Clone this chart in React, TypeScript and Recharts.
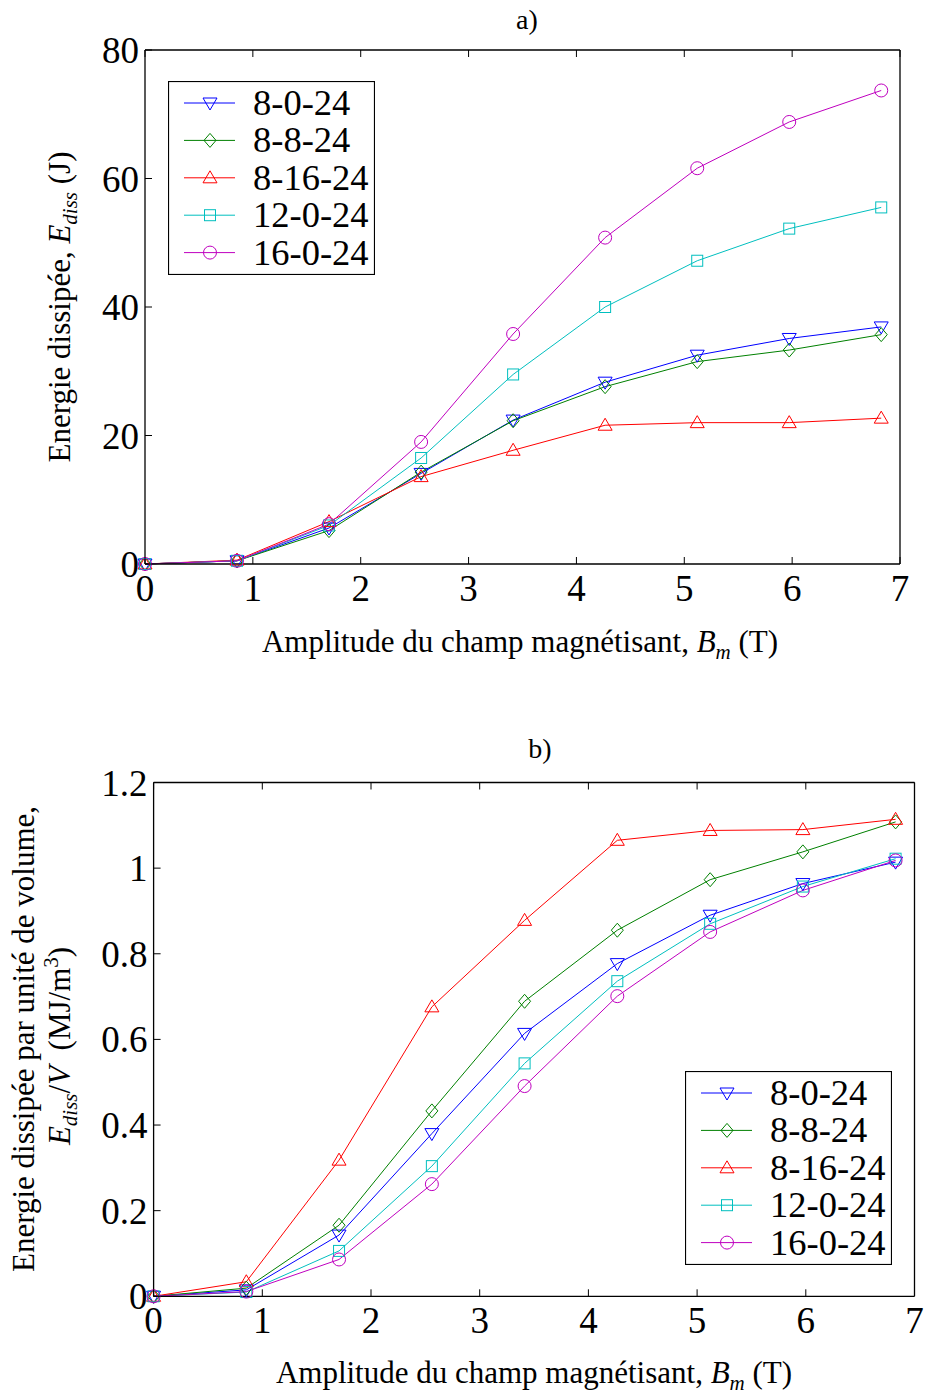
import React from 'react';
import { LineChart, Line, XAxis, YAxis, Legend, Customized } from 'recharts';

// magnetising field amplitude B_m (T), shared by both panels
const bField = [0, 0.853, 1.706, 2.56, 3.413, 4.266, 5.12, 5.973, 6.826];

const seriesNames = ['8-0-24', '8-8-24', '8-16-24', '12-0-24', '16-0-24'];
const seriesColors = ['#0000ff', '#008000', '#ff0000', '#00bfbf', '#bf00bf'];
const seriesMarkers = ['v', 'd', '^', 's', 'o'];

// a) dissipated energy (J)
const energy_8_0_24 = [0, 0.5, 5.6, 14.1, 22.4, 28.3, 32.5, 35.1, 36.9];
const energy_8_8_24 = [0, 0.5, 5.2, 14.3, 22.3, 27.6, 31.5, 33.3, 35.7];
const energy_8_16_24 = [0, 0.6, 6.6, 13.6, 17.7, 21.6, 22.0, 22.0, 22.7];
const energy_12_0_24 = [0, 0.5, 6.0, 16.5, 29.5, 40.0, 47.2, 52.2, 55.5];
const energy_16_0_24 = [0, 0.5, 6.2, 19.0, 35.8, 50.8, 61.6, 68.8, 73.7];

// b) dissipated energy per unit volume (MJ/m3)
const density_8_0_24 = [0, 0.015, 0.143, 0.38, 0.614, 0.777, 0.89, 0.964, 1.014];
const density_8_8_24 = [0, 0.019, 0.166, 0.433, 0.689, 0.855, 0.973, 1.038, 1.108];
const density_8_16_24 = [0, 0.034, 0.318, 0.676, 0.878, 1.065, 1.088, 1.09, 1.114];
const density_12_0_24 = [0, 0.01, 0.106, 0.304, 0.544, 0.736, 0.87, 0.957, 1.022];
const density_16_0_24 = [0, 0.011, 0.086, 0.262, 0.491, 0.701, 0.851, 0.948, 1.018];

const xTicks = [0, 1, 2, 3, 4, 5, 6, 7];
const energyTicks = [0, 20, 40, 60, 80];
const densityTicks = [0, 0.2, 0.4, 0.6, 0.8, 1, 1.2];

const SERIF = '"Liberation Serif", "Times New Roman", serif';

const buildRows = (cols: number[][]) =>
  bField.map((b, i) => {
    const row: any = { b };
    seriesNames.forEach((n, k) => (row[n] = cols[k][i]));
    return row;
  });

const energyRows = buildRows([energy_8_0_24, energy_8_8_24, energy_8_16_24, energy_12_0_24, energy_16_0_24]);
const densityRows = buildRows([density_8_0_24, density_8_8_24, density_8_16_24, density_12_0_24, density_16_0_24]);

const Marker = ({ kind, cx, cy, color }: any) => {
  const p = { fill: 'none', stroke: color, strokeWidth: 1 };
  if (kind === 'o') return <circle cx={cx} cy={cy} r={6.5} {...p} />;
  if (kind === 's') return <rect x={cx - 5.5} y={cy - 5.5} width={11} height={11} {...p} />;
  if (kind === 'd') return <polygon points={`${cx},${cy - 7} ${cx + 6},${cy} ${cx},${cy + 7} ${cx - 6},${cy}`} {...p} />;
  if (kind === 'v') return <polygon points={`${cx - 7},${cy - 5} ${cx + 7},${cy - 5} ${cx},${cy + 7}`} {...p} />;
  return <polygon points={`${cx - 7},${cy + 5} ${cx + 7},${cy + 5} ${cx},${cy - 7}`} {...p} />;
};

const BottomTick = ({ x, y, payload }: any) => (
  <g>
    <line x1={x} y1={y} x2={x} y2={y - 7} stroke="#000" />
    <text x={x} y={y + 37} textAnchor="middle" fontSize={37} fontFamily={SERIF} fill="#000">
      {payload.value}
    </text>
  </g>
);
const TopTick = ({ x, y }: any) => <line x1={x} y1={y} x2={x} y2={y + 7} stroke="#000" />;
const RightTick = ({ x, y }: any) => <line x1={x} y1={y} x2={x - 7} y2={y} stroke="#000" />;
const makeLeftTick = (fmt: (v: number) => string) => ({ x, y, payload }: any) => (
  <g>
    <line x1={x} y1={y} x2={x + 7} y2={y} stroke="#000" />
    <text x={x - 6} y={y + 13} textAnchor="end" fontSize={37} fontFamily={SERIF} fill="#000">
      {fmt(payload.value)}
    </text>
  </g>
);

const LegendBox = () => (
  <svg width={207} height={194} style={{ display: 'block' }}>
    <rect x={0.5} y={0.5} width={206} height={193} fill="#fff" stroke="#000" strokeWidth={1.2} />
    {seriesNames.map((n, i) => {
      const y = 22 + i * 37.4;
      return (
        <g key={n}>
          <line x1={16} y1={y} x2={67} y2={y} stroke={seriesColors[i]} />
          <Marker kind={seriesMarkers[i]} cx={42} cy={y} color={seriesColors[i]} />
          <text x={85} y={y + 12} fontSize={36.5} fontFamily={SERIF} fill="#000">
            {n}
          </text>
        </g>
      );
    })}
  </svg>
);

const XTitle = ({ cx, y }: any) => (
  <text x={cx} y={y} textAnchor="middle" fontSize={31} fontFamily={SERIF} fill="#000">
    Amplitude du champ magnétisant, <tspan fontStyle="italic">B</tspan>
    <tspan fontStyle="italic" fontSize={21} dy={7}>m</tspan>
    <tspan dy={-7}> (T)</tspan>
  </text>
);

const Panel = ({ rows, yDomain, yTicks, yFmt, margin, legendPos, overlay }: any) => (
  <LineChart width={926} height={697} data={rows} margin={margin}>
    <XAxis
      dataKey="b"
      type="number"
      domain={[0, 7]}
      ticks={xTicks}
      height={40}
      tickSize={0}
      tickMargin={0}
      tick={<BottomTick />}
      axisLine={{ stroke: '#000', strokeWidth: 1.3 }}
      tickLine={false}
    />
    <XAxis
      xAxisId="top"
      orientation="top"
      dataKey="b"
      type="number"
      domain={[0, 7]}
      ticks={xTicks}
      height={1}
      tickSize={0}
      tickMargin={0}
      tick={<TopTick />}
      axisLine={{ stroke: '#000', strokeWidth: 1.3 }}
      tickLine={false}
    />
    <YAxis
      type="number"
      domain={yDomain}
      ticks={yTicks}
      width={100}
      tickSize={0}
      tickMargin={0}
      tick={makeLeftTick(yFmt)}
      axisLine={{ stroke: '#000', strokeWidth: 1.3 }}
      tickLine={false}
    />
    <YAxis
      yAxisId="right"
      orientation="right"
      type="number"
      domain={yDomain}
      ticks={yTicks}
      width={1}
      tickSize={0}
      tickMargin={0}
      tick={<RightTick />}
      axisLine={{ stroke: '#000', strokeWidth: 1.3 }}
      tickLine={false}
    />
    {seriesNames.map((n, i) => (
      <Line
        key={n}
        dataKey={n}
        name={n}
        stroke={seriesColors[i]}
        strokeWidth={1}
        isAnimationActive={false}
        dot={(p: any) => <Marker key={`${n}-${p.index}`} kind={seriesMarkers[i]} cx={p.cx} cy={p.cy} color={seriesColors[i]} />}
        activeDot={false}
      />
    ))}
    <Legend
      layout="vertical"
      align="center"
      verticalAlign="middle"
      content={() => <LegendBox />}
      wrapperStyle={{ position: 'absolute', left: legendPos.left, top: legendPos.top, width: 207, height: 194 }}
    />
    <Customized component={overlay} />
  </LineChart>
);

const TopOverlay = () => (
  <g>
    <text x={527} y={29} textAnchor="middle" fontSize={28} fontFamily={SERIF} fill="#000">a)</text>
    <XTitle cx={520} y={652} />
    <text transform="translate(70,307) rotate(-90)" textAnchor="middle" fontSize={31} fontFamily={SERIF} fill="#000">
      Energie dissipée, <tspan fontStyle="italic">E</tspan>
      <tspan fontStyle="italic" fontSize={21} dy={7}>diss</tspan>
      <tspan dy={-7}> (J)</tspan>
    </text>
  </g>
);

const BottomOverlay = () => (
  <g>
    <text x={540} y={61} textAnchor="middle" fontSize={28} fontFamily={SERIF} fill="#000">b)</text>
    <XTitle cx={534} y={686} />
    <text transform="translate(34,342) rotate(-90)" textAnchor="middle" fontSize={31} fontFamily={SERIF} fill="#000">
      Energie dissipée par unité de volume,
    </text>
    <text transform="translate(70,349) rotate(-90)" textAnchor="middle" fontSize={31} fontFamily={SERIF} fill="#000" style={{ whiteSpace: 'pre' }}>
      <tspan fontStyle="italic">E</tspan>
      <tspan fontStyle="italic" fontSize={21} dy={7}>diss</tspan>
      <tspan dy={-7}>/</tspan>
      <tspan fontStyle="italic">V</tspan>
      <tspan>{'  (MJ/m'}</tspan>
      <tspan fontSize={21} dy={-12}>3</tspan>
      <tspan dy={12}>)</tspan>
    </text>
  </g>
);

export default function App() {
  return (
    <div style={{ position: 'absolute', left: 0, top: 0, width: 926, height: 1394, background: '#fff' }}>
      <div style={{ position: 'absolute', left: 0, top: 0 }}>
        <Panel
          rows={energyRows}
          yDomain={[0, 80]}
          yTicks={energyTicks}
          yFmt={(v: number) => String(v)}
          margin={{ top: 49, right: 25, bottom: 93, left: 45 }}
          legendPos={{ left: 168, top: 81 }}
          overlay={TopOverlay}
        />
      </div>
      <div style={{ position: 'absolute', left: 0, top: 697 }}>
        <Panel
          rows={densityRows}
          yDomain={[0, 1.2]}
          yTicks={densityTicks}
          yFmt={(v: number) => String(v)}
          margin={{ top: 84.5, right: 10.5, bottom: 57.7, left: 53.6 }}
          legendPos={{ left: 685, top: 374 }}
          overlay={BottomOverlay}
        />
      </div>
    </div>
  );
}
